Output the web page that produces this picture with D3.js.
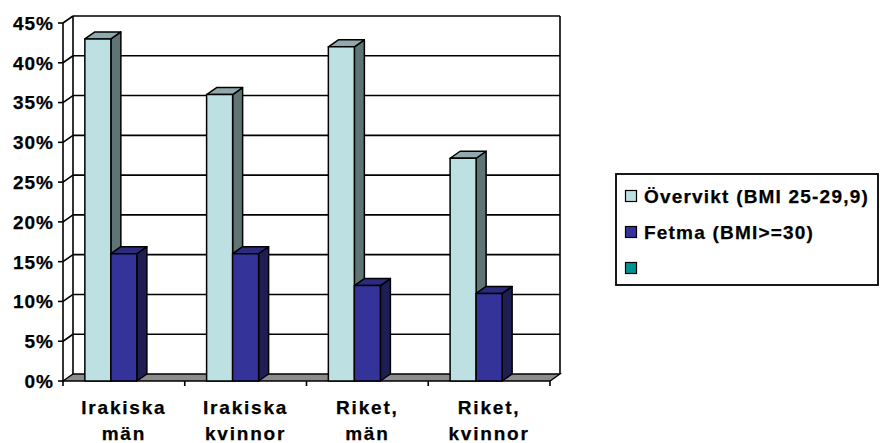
<!DOCTYPE html>
<html>
<head>
<meta charset="utf-8">
<script src="https://cdn.jsdelivr.net/npm/d3@7"></script>
<style>
  html, body { margin: 0; padding: 0; background: #fff; }
  svg { display: block; }
  text { font-family: "Liberation Sans", Arial, sans-serif; font-weight: bold; fill: #000; }
</style>
</head>
<body>
<svg id="chart" width="880" height="443"></svg>
<script>
// Share of overweight / obese people by group
const categories = [["Irakiska", "män"], ["Irakiska", "kvinnor"], ["Riket,", "män"], ["Riket,", "kvinnor"]];
const seriesNames = ["Övervikt (BMI 25-29,9)", "Fetma (BMI>=30)", ""];
const overvikt = [43, 36, 42, 28];
const fetma = [16, 16, 12, 11];
const third = [null, null, null, null];
const yTicks = [0, 5, 10, 15, 20, 25, 30, 35, 40, 45];

const seriesValues = [overvikt, fetma, third];
const palette = [
  { front: "#bde0e3", side: "#5f7575", top: "#8fa9ac" },
  { front: "#333399", side: "#1e1e55", top: "#2b2b80" },
  { front: "#009393", side: "#005050", top: "#007070" }
];

const svg = d3.select("#chart");

// 3D depth offset of the plot box
const DX = 10, DY = 7;
const left = 63, right = 550;

const y = d3.scaleLinear().domain([0, 45]).range([381, 23]);
const x0 = d3.scaleBand().domain(d3.range(categories.length)).range([left, right]);
const x1 = d3.scaleBand().domain(d3.range(seriesNames.length))
  .range([0, x0.bandwidth()]).paddingOuter(0.84);

const yBase = y(0);

// Floor
svg.append("path")
  .attr("d", `M${left},${yBase} L${left + DX},${yBase - DY} L${right + DX},${yBase - DY} L${right},${yBase} Z`)
  .attr("fill", "#8c8c8c").attr("stroke", "#000").attr("stroke-width", 1.3);

// Back wall gridlines and side wall diagonals
const grid = svg.append("g").attr("stroke", "#000").attr("stroke-width", 1.6).attr("fill", "none");
yTicks.filter(t => t > 0).forEach(t => {
  grid.append("line")
    .attr("x1", left + DX).attr("x2", right + DX)
    .attr("y1", y(t) - DY).attr("y2", y(t) - DY);
  grid.append("line")
    .attr("x1", left).attr("x2", left + DX)
    .attr("y1", y(t)).attr("y2", y(t) - DY);
});
// Back wall edges
grid.append("line").attr("x1", left + DX).attr("x2", left + DX)
  .attr("y1", y(45) - DY).attr("y2", yBase - DY);
grid.append("line").attr("x1", right + DX).attr("x2", right + DX)
  .attr("y1", y(45) - DY).attr("y2", yBase - DY);

// Front value axis with ticks
const axisG = svg.append("g").attr("stroke", "#000").attr("stroke-width", 1.6);
axisG.append("line").attr("x1", left).attr("x2", left).attr("y1", y(45)).attr("y2", yBase);
yTicks.forEach(t => {
  axisG.append("line").attr("x1", left - 5).attr("x2", left).attr("y1", y(t)).attr("y2", y(t));
});
// Category axis ticks
d3.range(categories.length + 1).forEach(i => {
  const xx = left + i * x0.bandwidth();
  axisG.append("line").attr("x1", xx).attr("x2", xx).attr("y1", yBase).attr("y2", yBase + 5);
});

// Value labels
svg.append("g").selectAll("text").data(yTicks).join("text")
  .attr("x", 54).attr("y", d => y(d))
  .attr("dy", "0.36em")
  .attr("text-anchor", "end")
  .attr("font-size", 19)
  .attr("letter-spacing", 1)
  .attr("stroke", "#000").attr("stroke-width", 0.25)
  .text(d => d + "%");

// Bars as 3D boxes, drawn left to right
const bars = svg.append("g").attr("stroke", "#000").attr("stroke-width", 1.5).attr("stroke-linejoin", "round");
categories.forEach((c, ci) => {
  seriesValues.forEach((vals, si) => {
    const v = vals[ci];
    if (v == null) return;
    const xa = x0(ci) + x1(si);
    const xb = xa + x1.bandwidth();
    const yt = y(v);
    const col = palette[si];
    bars.append("path")
      .attr("d", `M${xb},${yt} L${xb + DX},${yt - DY} L${xb + DX},${yBase - DY} L${xb},${yBase} Z`)
      .attr("fill", col.side);
    bars.append("path")
      .attr("d", `M${xa},${yt} L${xa + DX},${yt - DY} L${xb + DX},${yt - DY} L${xb},${yt} Z`)
      .attr("fill", col.top);
    bars.append("rect")
      .attr("x", xa).attr("y", yt).attr("width", xb - xa).attr("height", yBase - yt)
      .attr("fill", col.front);
  });
});

// Category labels
const catG = svg.append("g");
categories.forEach((lines, ci) => {
  const cx = x0(ci) + x0.bandwidth() / 2;
  const t = catG.append("text")
    .attr("x", cx)
    .attr("y", 413)
    .attr("text-anchor", "middle")
    .attr("font-size", 19)
    .attr("letter-spacing", 1.8)
    .attr("stroke", "#000").attr("stroke-width", 0.25);
  lines.forEach((ln, li) => {
    t.append("tspan").attr("x", cx).attr("y", 414 + li * 26).text(ln);
  });
});

// Legend
const lg = svg.append("g");
lg.append("rect").attr("x", 616).attr("y", 174).attr("width", 262).attr("height", 111)
  .attr("fill", "#fff").attr("stroke", "#000").attr("stroke-width", 1.8);
seriesNames.forEach((name, i) => {
  const cy = 196 + i * 36;
  lg.append("rect").attr("x", 625.5).attr("y", cy - 5.5).attr("width", 11).attr("height", 11)
    .attr("fill", palette[i].front).attr("stroke", "#000").attr("stroke-width", 1.2);
  lg.append("text").attr("x", 644).attr("y", cy).attr("dy", "0.36em")
    .attr("font-size", 19).attr("letter-spacing", 1.2)
    .attr("stroke", "#000").attr("stroke-width", 0.25)
    .text(name);
});
</script>
</body>
</html>
